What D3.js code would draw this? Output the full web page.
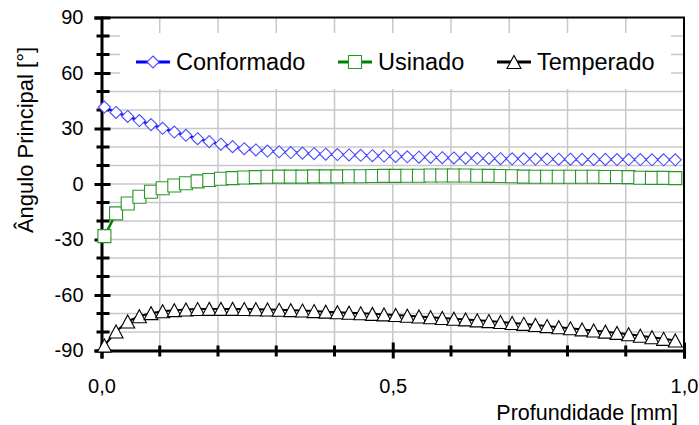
<!DOCTYPE html>
<html>
<head>
<meta charset="utf-8">
<script src="https://cdn.jsdelivr.net/npm/d3@7"></script>
<style>
  body { margin: 0; background: #fff; }
  text { font-family: "Liberation Sans", Arial, sans-serif; fill: #000; }
</style>
</head>
<body>
<div id="chart"></div>
<script>
// profundidade [mm] of each measured point
var depth = [0.005, 0.025, 0.045, 0.065, 0.085, 0.105, 0.125, 0.145, 0.165, 0.185,
             0.205, 0.225, 0.245, 0.265, 0.285, 0.305, 0.325, 0.345, 0.365, 0.385,
             0.405, 0.425, 0.445, 0.465, 0.485, 0.505, 0.525, 0.545, 0.565, 0.585,
             0.605, 0.625, 0.645, 0.665, 0.685, 0.705, 0.725, 0.745, 0.765, 0.785,
             0.805, 0.825, 0.845, 0.865, 0.885, 0.905, 0.925, 0.945, 0.965, 0.985];
var conformado = [41.6, 38.7, 36.5, 34.3, 32.1, 30.1, 28.1, 26.3, 24.5, 22.9,
                  21.5, 20.2, 19.1, 18.4, 17.8, 17.4, 17.0, 16.7, 16.4, 16.1,
                  15.9, 15.7, 15.5, 15.3, 15.1, 14.9, 14.7, 14.5, 14.4, 14.2,
                  14.1, 14.0, 13.9, 13.8, 13.7, 13.6, 13.6, 13.5, 13.5, 13.4,
                  13.4, 13.3, 13.3, 13.3, 13.2, 13.2, 13.2, 13.1, 13.1, 13.1];
var usinado = [-28.2, -15.9, -10.5, -6.9, -4.2, -2.3, -0.8, 0.4, 1.4, 2.2,
               2.8, 3.2, 3.5, 3.7, 3.9, 4.0, 4.0, 4.0, 4.1, 4.1,
               4.1, 4.2, 4.2, 4.3, 4.4, 4.4, 4.5, 4.5, 4.6, 4.6,
               4.6, 4.6, 4.5, 4.4, 4.3, 4.2, 4.0, 3.9, 3.9, 3.9,
               3.9, 3.9, 3.9, 3.8, 3.8, 3.7, 3.4, 3.3, 3.3, 3.2];
var temperado = [-87.3, -79.7, -74.3, -71.5, -69.8, -68.8, -68.2, -67.8, -67.6, -67.5,
                 -67.5, -67.5, -67.6, -67.7, -67.8, -68.0, -68.2, -68.4, -68.7, -69.0,
                 -69.3, -69.6, -69.9, -70.2, -70.5, -70.8, -71.2, -71.6, -72.0, -72.4,
                 -72.8, -73.2, -73.7, -74.1, -74.6, -75.1, -75.6, -76.2, -76.8, -77.4,
                 -78.0, -78.6, -79.2, -79.8, -80.5, -81.2, -82.0, -82.8, -83.7, -84.6];
var seriesNames = ["Conformado", "Usinado", "Temperado"];
var yMajor = [-90, -60, -30, 0, 30, 60, 90];
var yMinor = [-80, -70, -50, -40, -20, -10, 10, 20, 40, 50, 70, 80];
var xMajor = [0, 0.5, 1.0];
var xMinor = [0.1, 0.2, 0.3, 0.4, 0.6, 0.7, 0.8, 0.9];

var W = 699, H = 425;
var margin = {left: 101.5, right: 15, top: 17.5, bottom: 74.5};

var x = d3.scaleLinear().domain([0, 1]).range([margin.left, W - margin.right]);
var y = d3.scaleLinear().domain([-90, 90]).range([H - margin.bottom, margin.top]);

var svg = d3.select("#chart").append("svg")
    .attr("width", W)
    .attr("height", H);

// grid
var grid = svg.append("g").attr("class", "grid")
    .attr("stroke", "#c8c8c8").attr("stroke-width", 1.5);
grid.selectAll(".gx").data(xMinor.concat([0.5])).enter().append("line")
    .attr("x1", function(d){ return x(d); }).attr("x2", function(d){ return x(d); })
    .attr("y1", y(90)).attr("y2", y(-90));
grid.selectAll(".gy").data(yMinor.concat([-60, -30, 0, 30, 60])).enter().append("line")
    .attr("y1", function(d){ return y(d); }).attr("y2", function(d){ return y(d); })
    .attr("x1", x(0)).attr("x2", x(1));

// legend box hides the grid behind it
svg.append("rect")
    .attr("x", 120).attr("y", 33)
    .attr("width", 551).attr("height", 56)
    .attr("fill", "#fff");

// top and right frame
svg.append("path")
    .attr("d", "M" + x(0) + "," + y(90) + "H" + x(1) + "V" + y(-90))
    .attr("fill", "none").attr("stroke", "#000").attr("stroke-width", 2);

// y axis
var yAxis = svg.append("g")
    .attr("transform", "translate(" + x(0) + ",0)")
    .call(d3.axisLeft(y).tickValues(yMajor).tickSize(7).tickPadding(11)
        .tickFormat(function(d){ return String(d); }));
yAxis.selectAll(".tick line").attr("x2", -7).attr("x1", 9).attr("stroke-width", 3);
yAxis.select(".domain").attr("stroke-width", 3);
yAxis.selectAll("text").style("font-size", "20px");
yAxis.selectAll(".minor").data(yMinor).enter().append("line")
    .attr("class", "minor")
    .attr("x1", -5).attr("x2", 8)
    .attr("y1", function(d){ return y(d); }).attr("y2", function(d){ return y(d); })
    .attr("stroke", "#000").attr("stroke-width", 3);

// x axis
var xAxis = svg.append("g")
    .attr("transform", "translate(0," + y(-90) + ")")
    .call(d3.axisBottom(x).tickValues(xMajor).tickSize(8)
        .tickFormat(function(d){ return d3.format(".1f")(d).replace(".", ","); }));
xAxis.selectAll(".tick line").attr("y1", -8).attr("stroke-width", 3);
xAxis.select(".domain").attr("stroke-width", 3);
xAxis.selectAll("text").style("font-size", "20px").attr("y", 28);
xAxis.selectAll(".minor").data(xMinor).enter().append("line")
    .attr("class", "minor")
    .attr("y1", -5).attr("y2", 6)
    .attr("x1", function(d){ return x(d); }).attr("x2", function(d){ return x(d); })
    .attr("stroke", "#000").attr("stroke-width", 3);

// axis titles
svg.append("text")
    .attr("transform", "translate(33," + 140 + ") rotate(-90)")
    .attr("text-anchor", "middle")
    .style("font-size", "22px")
    .text("Ângulo Principal [°]");
svg.append("text")
    .attr("x", 678).attr("y", 420)
    .attr("text-anchor", "end")
    .style("font-size", "21.5px")
    .text("Profundidade [mm]");

// marker shapes, centred on 0,0
var markerPath = {
    diamond: "M0,-6L6,0L0,6L-6,0Z",
    square: "M-6.5,-6.5H6.5V6.5H-6.5Z",
    triangle: "M0,-6.5L7,6.5L-7,6.5Z"
};
var series = [
    {name: seriesNames[0], values: conformado, line: "#0000ff", mark: "#4a4aff", shape: "diamond", lw: 2.5},
    {name: seriesNames[1], values: usinado, line: "#008000", mark: "#2a962a", shape: "square", lw: 2.5},
    {name: seriesNames[2], values: temperado, line: "#000000", mark: "#000000", shape: "triangle", lw: 2}
];

var line = d3.line()
    .x(function(d){ return x(d[0]); })
    .y(function(d){ return y(d[1]); });

series.forEach(function(s) {
    var pts = depth.map(function(d, i){ return [d, s.values[i]]; });
    svg.append("path")
        .attr("d", line(pts))
        .attr("fill", "none")
        .attr("stroke", s.line)
        .attr("stroke-width", s.lw);
    svg.append("g").selectAll("path").data(pts).enter().append("path")
        .attr("d", markerPath[s.shape])
        .attr("transform", function(d){ return "translate(" + x(d[0]) + "," + y(d[1]) + ")"; })
        .attr("fill", "#fff")
        .attr("stroke", s.mark)
        .attr("stroke-width", 1.1);
});

// legend
var legendX = [136, 338, 497];
var legend = svg.append("g");
series.forEach(function(s, i) {
    var g = legend.append("g").attr("transform", "translate(" + legendX[i] + ",62)");
    g.append("line").attr("x1", 0).attr("x2", 34)
        .attr("stroke", s.line).attr("stroke-width", 3);
    g.append("path").attr("d", markerPath[s.shape])
        .attr("transform", "translate(17,0)")
        .attr("fill", "#fff").attr("stroke", s.mark).attr("stroke-width", 1.1);
    g.append("text").attr("x", 40).attr("y", 8)
        .style("font-size", "23.5px")
        .text(s.name);
});
</script>
</body>
</html>
